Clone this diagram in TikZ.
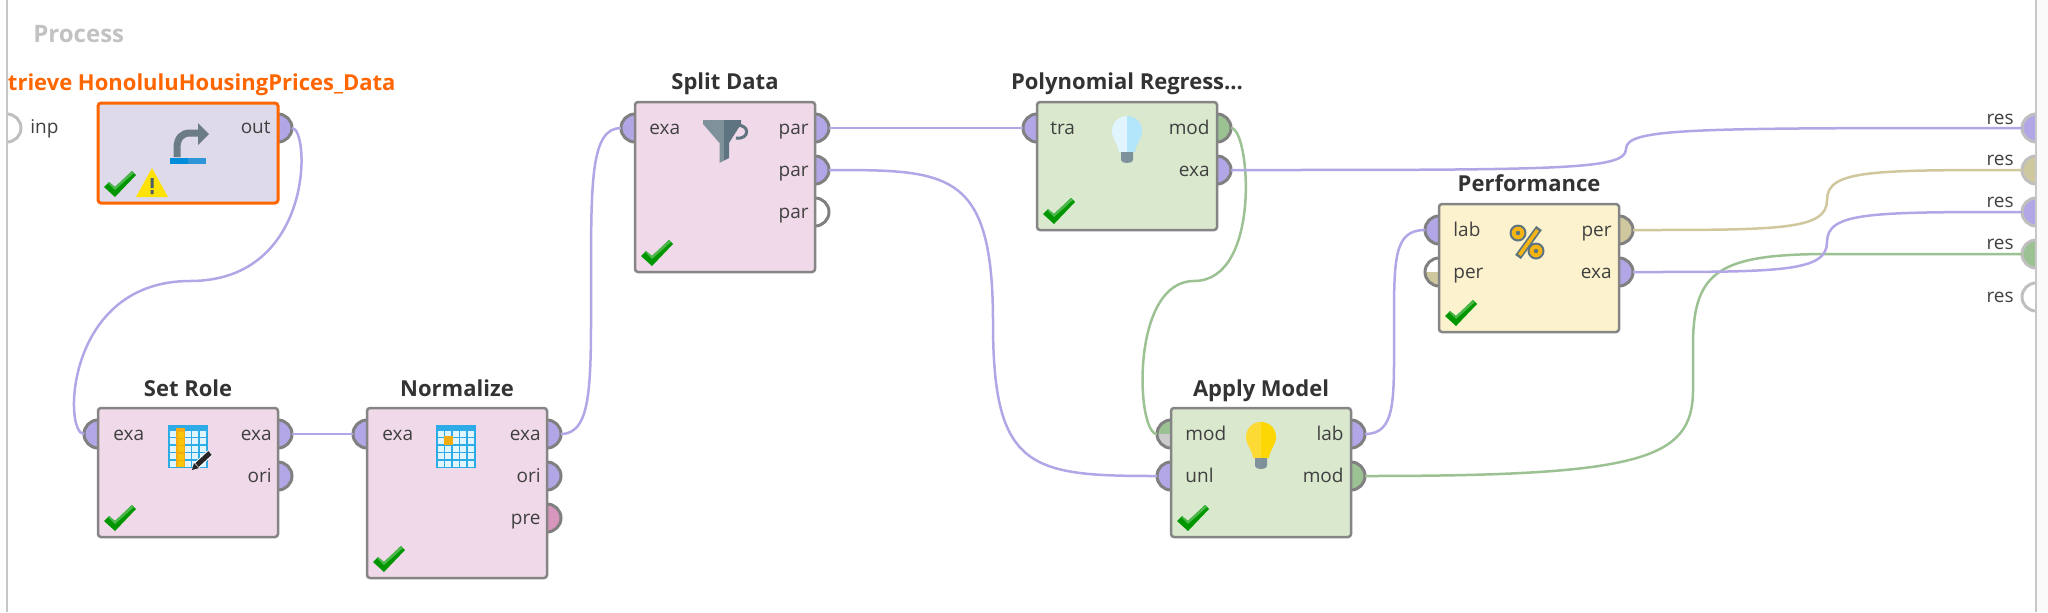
\documentclass[tikz,border=0pt]{standalone}
\usepackage{fontspec}
\setmainfont{Open Sans}
\usepackage{xcolor}
\usetikzlibrary{positioning,backgrounds}
\definecolor{exacol}{HTML}{B3A6E6}
\definecolor{modcol}{HTML}{9CC294}
\definecolor{percol}{HTML}{CFC79E}
\definecolor{precol}{HTML}{D796BC}
\definecolor{rolefill}{HTML}{F0D9E8}
\definecolor{learnfill}{HTML}{DAE8CE}
\definecolor{perffill}{HTML}{FCF3CE}
\definecolor{readfill}{HTML}{DFDAEA}
\definecolor{hotcol}{HTML}{FF6600}
\definecolor{slatecol}{HTML}{5E7480}
\definecolor{slatelite}{HTML}{7F929C}
\definecolor{gridcol}{HTML}{2CABE6}
\definecolor{ambercol}{HTML}{F5AB12}
\tikzset{
  opbox/.style={draw=black!48, line width=1.25pt, rounded corners=1.5pt, anchor=north west,
                minimum width=90pt, inner sep=0pt, outer sep=0pt},
  port/.style={circle, draw=black!50, line width=1.5pt, minimum size=14pt, inner sep=0pt, outer sep=0pt},
  edgeport/.style={port, draw=black!25},
  halfport/.style 2 args={port, path picture={
      \fill[#1] (path picture bounding box.north west) rectangle (path picture bounding box.east);
      \fill[#2] (path picture bounding box.south west) rectangle (path picture bounding box.east);}},
  wire/.style={line width=1.25pt},
  optitle/.style={font=\bfseries\fontsize{11}{13}\selectfont, text=black!80, anchor=base, inner sep=0pt},
  lbl/.style={font=\fontsize{9.5}{11}\selectfont, text=black!75, inner sep=0pt},
  lblin/.style={lbl, anchor=base west},
  lblout/.style={lbl, anchor=base east},
  frameline/.style={draw=black!22, line width=1pt},
  pics/okmark/.style={code={
    \fill[green!45!black!75!green] (6,-16) -- (17,-6) -- (38,-28) -- (34,-32) -- (17,-16) -- (11,-21) -- cycle;
    \fill[green!60!black!70!white] (10,-20) -- (17,-13) -- (36,-30) -- (34,-32) -- (17,-16) -- (11,-21) -- cycle;}},
  pics/bulb/.style 2 args={code={
    \fill[#1] (0,0) .. controls (-9,0) and (-15,7) .. (-15,15) .. controls (-15,23) and (-9,27) .. (-8,36) -- (0,36) -- cycle;
    \fill[#2] (0,0) .. controls (9,0) and (15,7) .. (15,15) .. controls (15,23) and (9,27) .. (8,36) -- (0,36) -- cycle;
    \fill[slatelite] (-6,36) -- (0,36) -- (0,47) .. controls (-3,47) and (-6,46) .. (-6,44) -- cycle;
    \fill[slatecol!80] (6,36) -- (0,36) -- (0,47) .. controls (3,47) and (6,46) .. (6,44) -- cycle;}},
  pics/gridicon/.style={code={
    \fill[gridcol] (0,0) rectangle (40,43);
    \foreach \i in {0,...,4} \foreach \j in {0,...,4}
      \fill[cyan!12] ({1.5+7.6*\i},{6+7.4*\j}) rectangle ({7.5+7.6*\i},{12+7.4*\j});}},
}

\begin{document}
\begin{tikzpicture}[x=0.5pt, y=-0.5pt]
  \useasboundingbox (0,0) rectangle (2048,612);
  % operators
  \node[opbox, draw=hotcol, line width=1.5pt, fill=readfill, minimum height=50pt] (rtBox) at (98,103) {};
  \node[opbox, fill=rolefill, minimum height=64.5pt] (srBox) at (98,408) {};
  \node[opbox, fill=rolefill, minimum height=85pt] (nmBox) at ([xshift=44.5pt]srBox.north east) {};
  \node[opbox, fill=rolefill, minimum height=85pt] (spBox) at (635,102) {};
  \node[opbox, fill=learnfill, minimum height=64pt] (prBox) at (1037,102) {};
  \node[opbox, fill=learnfill, minimum height=64.5pt] (amBox) at (1171,408) {};
  \node[opbox, fill=perffill, minimum height=64pt] (pfBox) at (1439,204) {};
  % titles
  \node[optitle, text=hotcol] (rtTitle) at ([yshift=6.5pt]rtBox.north) {Retrieve HonoluluHousingPrices\_Data};
  \node[optitle] (srTitle) at ([yshift=6pt]srBox.north) {Set Role};
  \node[optitle] (nmTitle) at ([yshift=6pt]nmBox.north) {Normalize};
  \node[optitle] (spTitle) at ([yshift=6.5pt]spBox.north) {Split Data};
  \node[optitle] (prTitle) at ([yshift=6.5pt]prBox.north) {Polynomial Regress...};
  \node[optitle] (amTitle) at ([yshift=6pt]amBox.north) {Apply Model};
  \node[optitle] (pfTitle) at ([yshift=6.5pt]pfBox.north) {Performance};
  \node[optitle, font=\bfseries\fontsize{12}{14}\selectfont, text=black!24, anchor=base west] (procTitle) at (33,42) {Process};
  % ports
  \begin{scope}[on background layer]
    \node[edgeport, fill=white] (inpPort) at (7,128) {};
    \node[port, fill=exacol] (rtOut) at ([shift={(0,25)}]rtBox.north east) {};
    \node[port, fill=exacol] (srExa) at ([shift={(0,26)}]srBox.north west) {};
    \node[port, fill=exacol] (srOut) at ([shift={(0,26)}]srBox.north east) {};
    \node[port, fill=exacol] (srOri) at ([shift={(0,68)}]srBox.north east) {};
    \node[port, fill=exacol] (nmExa) at ([shift={(0,26)}]nmBox.north west) {};
    \node[port, fill=exacol] (nmOut) at ([shift={(0,26)}]nmBox.north east) {};
    \node[port, fill=exacol] (nmOri) at ([shift={(0,68)}]nmBox.north east) {};
    \node[port, fill=precol] (nmPre) at ([shift={(0,110)}]nmBox.north east) {};
    \node[port, fill=exacol] (spExa) at ([shift={(0,26)}]spBox.north west) {};
    \node[port, fill=exacol] (spParA) at ([shift={(0,26)}]spBox.north east) {};
    \node[port, fill=exacol] (spParB) at ([shift={(0,68)}]spBox.north east) {};
    \node[port, fill=white] (spParC) at ([shift={(0,110)}]spBox.north east) {};
    \node[port, fill=exacol] (prTra) at ([shift={(0,26)}]prBox.north west) {};
    \node[port, fill=modcol] (prMod) at ([shift={(0,26)}]prBox.north east) {};
    \node[port, fill=exacol] (prExa) at ([shift={(0,68)}]prBox.north east) {};
    \node[halfport={modcol}{black!20}] (amMod) at ([shift={(0,26)}]amBox.north west) {};
    \node[port, fill=exacol] (amUnl) at ([shift={(0,68)}]amBox.north west) {};
    \node[port, fill=exacol] (amLab) at ([shift={(0,26)}]amBox.north east) {};
    \node[port, fill=modcol] (amOut) at ([shift={(0,68)}]amBox.north east) {};
    \node[port, fill=exacol] (pfLab) at ([shift={(0,26)}]pfBox.north west) {};
    \node[halfport={white}{percol}] (pfIn) at ([shift={(0,68)}]pfBox.north west) {};
    \node[port, fill=percol] (pfPer) at ([shift={(0,26)}]pfBox.north east) {};
    \node[port, fill=exacol] (pfExa) at ([shift={(0,68)}]pfBox.north east) {};
    \node[edgeport, fill=exacol] (rsA) at (2036,128) {};
    \node[edgeport, fill=percol] (rsB) at (2036,170) {};
    \node[edgeport, fill=exacol] (rsC) at (2036,212) {};
    \node[edgeport, fill=modcol] (rsD) at (2036,254) {};
    \node[edgeport, fill=white] (rsE) at (2036,297) {};
    % wires
    \coordinate (rtBend) at (190,281);
    \coordinate (nmBend) at (591,281);
    \coordinate (spBend) at (993,323);
    \coordinate (prBend) at (1194,281);
    \coordinate (exBend) at (1626,149);
    \coordinate (perBend) at (1827,200);
    \coordinate (pxBend) at (1827,242);
    \coordinate (labBend) at (1394,332);
    \coordinate (modBendA) at (1693,390);
    \coordinate (modBendB) at (1693,345);
    \coordinate (modBendC) at (1830,254);
    \draw[wire, exacol] (rtOut.east) .. controls +(18,0) and +(125,0) .. (rtBend)
      .. controls +(-125,0) and +(-21,0) .. (srExa.west);
    \draw[wire, exacol] (srOut) -- (nmExa);
    \draw[wire, exacol] (nmOut.east) .. controls +(32,0) and +(0,99) .. (nmBend)
      .. controls +(0,-101) and +(-30,0) .. (spExa.west);
    \draw[wire, exacol] (spParA) -- (prTra);
    \draw[wire, exacol] (spParB.east) .. controls +(120,0) and +(0,-153) .. (spBend)
      .. controls +(0,147) and +(-126,0) .. (amUnl.west);
    \draw[wire, modcol] (prMod.east) .. controls +(19,0) and +(68,0) .. (prBend)
      .. controls +(-64,0) and +(-21,0) .. (amMod.west);
    \draw[wire, modcol] (amOut.east) .. controls +(275,0) and +(0,70) .. (modBendA) -- (modBendB)
      .. controls +(0,-75) and +(-110,0) .. (modBendC) -- (rsD);
    \draw[wire, exacol] (prExa.east) .. controls +(329,0) and +(0,21) .. (exBend)
      .. controls +(0,-21) and +(-331,0) .. (rsA.west);
    \draw[wire, percol] (pfPer.east) .. controls +(147,0) and +(0,30) .. (perBend)
      .. controls +(0,-30) and +(-151,0) .. (rsB.west);
    \draw[wire, exacol] (pfExa.east) .. controls +(147,0) and +(0,30) .. (pxBend)
      .. controls +(0,-30) and +(-151,0) .. (rsC.west);
    \draw[wire, exacol] (amLab.east) .. controls +(31,0) and +(0,68) .. (labBend)
      .. controls +(0,-72) and +(-32,0) .. (pfLab.west);
  \end{scope}
  % port labels
  \node[lblin] (inpText) at (30,133) {inp};
  \node[lblout] (rtOutText) at ([shift={(-7,30)}]rtBox.north east) {out};
  \node[lblin] (srExaText) at ([shift={(15,32)}]srBox.north west) {exa};
  \node[lblout] (srOutText) at ([shift={(-6,32)}]srBox.north east) {exa};
  \node[lblout] (srOriText) at ([shift={(-6,74)}]srBox.north east) {ori};
  \node[lblin] (nmExaText) at ([shift={(15,32)}]nmBox.north west) {exa};
  \node[lblout] (nmOutText) at ([shift={(-6,32)}]nmBox.north east) {exa};
  \node[lblout] (nmOriText) at ([shift={(-6,74)}]nmBox.north east) {ori};
  \node[lblout] (nmPreText) at ([shift={(-6,116)}]nmBox.north east) {pre};
  \node[lblin] (spExaText) at ([shift={(14,32)}]spBox.north west) {exa};
  \node[lblout] (spParAText) at ([shift={(-6,32)}]spBox.north east) {par};
  \node[lblout] (spParBText) at ([shift={(-6,74)}]spBox.north east) {par};
  \node[lblout] (spParCText) at ([shift={(-6,116)}]spBox.north east) {par};
  \node[lblin] (prTraText) at ([shift={(13,32)}]prBox.north west) {tra};
  \node[lblout] (prModText) at ([shift={(-7,32)}]prBox.north east) {mod};
  \node[lblout] (prExaText) at ([shift={(-7,74)}]prBox.north east) {exa};
  \node[lblin] (amModText) at ([shift={(14,32)}]amBox.north west) {mod};
  \node[lblin] (amUnlText) at ([shift={(14,74)}]amBox.north west) {unl};
  \node[lblout] (amLabText) at ([shift={(-7,32)}]amBox.north east) {lab};
  \node[lblout] (amOutText) at ([shift={(-7,74)}]amBox.north east) {mod};
  \node[lblin] (pfLabText) at ([shift={(14,32)}]pfBox.north west) {lab};
  \node[lblin] (pfInText) at ([shift={(14,74)}]pfBox.north west) {per};
  \node[lblout] (pfPerText) at ([shift={(-7,32)}]pfBox.north east) {per};
  \node[lblout] (pfExaText) at ([shift={(-7,74)}]pfBox.north east) {exa};
  \node[lblout] (rsAText) at (2014,124) {res};
  \node[lblout] (rsBText) at (2014,165) {res};
  \node[lblout] (rsCText) at (2014,207) {res};
  \node[lblout] (rsDText) at (2014,249) {res};
  \node[lblout] (rsEText) at (2014,302) {res};
  % status marks
  \pic at (rtBox.south west) {okmark};
  \pic at (srBox.south west) {okmark};
  \pic at (nmBox.south west) {okmark};
  \pic at (spBox.south west) {okmark};
  \pic at (prBox.south west) {okmark};
  \pic at (amBox.south west) {okmark};
  \pic at (pfBox.south west) {okmark};
  \fill[yellow!85!orange] (136,197) -- (152,168) -- (168,197) -- cycle;
  \fill[slatecol!80!black] (150.5,178) rectangle (153.5,188) (150.5,190) rectangle (153.5,194);
  % retrieve icon
  \fill[blue!35!cyan!85!black] (170,158) rectangle (188,164);
  \fill[cyan!70!blue!85!white] (188,158) rectangle (206,164);
  \draw[slatelite!85!black, line width=3.5pt] (177,157) -- (177,148) .. controls (177,138) and (182,133) .. (190,133) -- (199,133);
  \fill[slatelite!85!black] (198,123) -- (209,134) -- (198,145) -- cycle;
  % table icons
  \pic at ([shift={(70,17)}]srBox.north west) {gridicon};
  \fill[ambercol] (176,428) rectangle (185,467);
  \foreach \j in {0,...,4} \fill[ambercol!70!yellow] (177.5,{431.5+7.4*\j}) rectangle (183.5,{437.5+7.4*\j});
  \draw[white, line width=3.5pt] (196,466) -- (210,453);
  \draw[black!85, line width=2.5pt] (197,465) -- (210,453);
  \fill[black!85] (192,470) -- (194,463) -- (199,468) -- cycle;
  \pic at ([shift={(69,17)}]nmBox.north west) {gridicon};
  \fill[ambercol] (444,436) rectangle (453,445);
  % funnel
  \draw[slatecol, line width=1.5pt] (737,125.5) .. controls (750,124) and (750,140) .. (736,138);
  \fill[slatelite] (703,120) -- (724,120) -- (724,160.5) -- (719.5,163) -- (719.5,143) -- (703,124) -- cycle;
  \fill[slatecol] (724,120) -- (741,120) -- (741,124) -- (729,143) -- (729,158) -- (724,160.5) -- cycle;
  % bulbs
  \pic at ([shift={(0,14)}]prBox.north) {bulb={cyan!12}{cyan!30}};
  \pic at ([shift={(0,14)}]amBox.north) {bulb={yellow!70!orange!80!white}{yellow!75!orange}};
  % percent
  \draw[slatecol, line width=3.5pt] (1539,228) -- (1518,257);
  \draw[ambercol!90!yellow, line width=1.75pt] (1537.5,230) -- (1519.5,255);
  \fill[slatecol] (1518,233) circle[radius=8.5] (1536,251) circle[radius=8.5];
  \fill[ambercol!90!yellow] (1518,233) circle[radius=6.3] (1536,251) circle[radius=6.3];
  \fill[slatecol] (1518,233) circle[radius=2.2] (1536,251) circle[radius=2.2];
  % canvas edges
  \fill[white] (0,0) rectangle (6.5,612);
  \fill[black!2] (2036,0) rectangle (2048,612);
  \draw[frameline] (6.5,0) -- (6.5,612);
  \draw[frameline] (2036,0) -- (2036,612);
\end{tikzpicture}
\end{document}
